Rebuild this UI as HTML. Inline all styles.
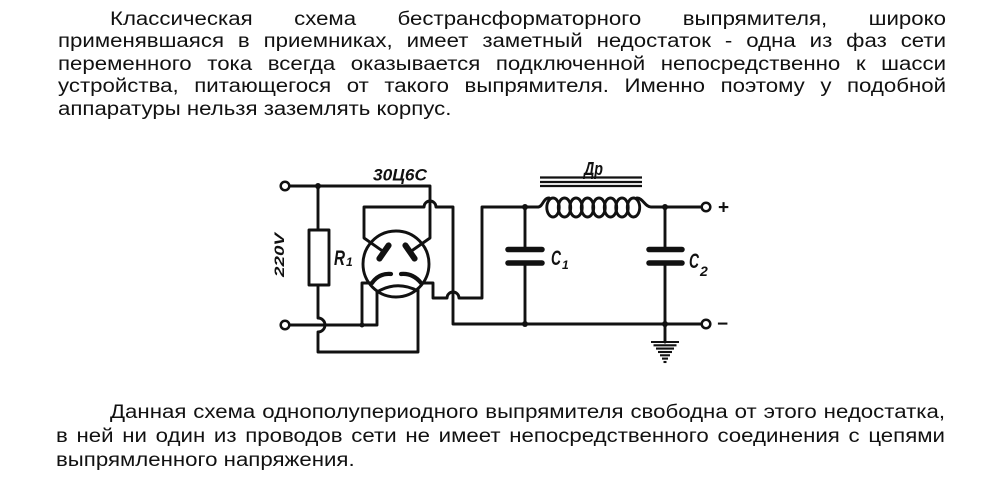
<!DOCTYPE html>
<html>
<head>
<meta charset="utf-8">
<style>
html,body{margin:0;padding:0;background:#fff;}
body{width:1000px;height:478px;position:relative;overflow:hidden;}
.ln{position:absolute;font-family:"Liberation Sans",Arial,sans-serif;font-size:19px;line-height:22.5px;height:22.5px;color:#111;transform:scaleX(1.17);transform-origin:0 0;}
.j{text-align:justify;text-align-last:justify;}
.l{text-align:left;}
svg{position:absolute;left:0;top:0;}
.lbl{font-family:"Liberation Sans",Arial,sans-serif;font-weight:bold;font-style:italic;fill:#111;}
</style>
</head>
<body>
<div class="ln j" style="left:110px;top:8.7px;width:714.5px;">Классическая схема бестрансформаторного выпрямителя, широко</div>
<div class="ln j" style="left:58px;top:31.2px;width:759px;">применявшаяся в приемниках, имеет заметный недостаток - одна из фаз сети</div>
<div class="ln j" style="left:58px;top:53.7px;width:759px;">переменного тока всегда оказывается подключенной непосредственно к шасси</div>
<div class="ln j" style="left:58px;top:76.2px;width:759px;">устройства, питающегося от такого выпрямителя. Именно поэтому у подобной</div>
<div class="ln l" style="left:58px;top:98.7px;width:759px;">аппаратуры нельзя заземлять корпус.</div>

<div class="ln j" style="left:110px;top:401.7px;width:713.7px;">Данная схема однополупериодного выпрямителя свободна от этого недостатка,</div>
<div class="ln j" style="left:56px;top:425.7px;width:759.8px;">в ней ни один из проводов сети не имеет непосредственного соединения с цепями</div>
<div class="ln l" style="left:56px;top:449.7px;width:759.8px;">выпрямленного напряжения.</div>

<svg width="1000" height="478" viewBox="0 0 1000 478">
  <g fill="none" stroke="#111" stroke-width="2.9" stroke-linejoin="round" stroke-linecap="round">
    <path d="M289,186 H430 V238 L410,252"/>
    <path d="M318,186 V230"/>
    <rect x="309" y="230" width="20" height="55"/>
    <path d="M318,285 V318 A7,7 0 0 1 318,332 V352 H418 V289"/>
    <path d="M289,325 H377 V291"/>
    <path d="M362,325 V283 H372"/>
    <path d="M384,252 L364,238 V207 H424 A6,6 0 0 1 436,207 H453 V324 H702"/>
    <path d="M421,283 H433 V298 H447 A6,6 0 0 1 459,298 H482 V207 H538"/>
    <path d="M538,207 C543,207 543,198 549,198"/>
    <path d="M637,198 C643,198 645,207 651,207 H702"/>
    <ellipse cx="553" cy="207.5" rx="6.2" ry="9.5"/>
    <ellipse cx="564.5" cy="207.5" rx="6.2" ry="9.5"/>
    <ellipse cx="576" cy="207.5" rx="6.2" ry="9.5"/>
    <ellipse cx="587.5" cy="207.5" rx="6.2" ry="9.5"/>
    <ellipse cx="599" cy="207.5" rx="6.2" ry="9.5"/>
    <ellipse cx="610.5" cy="207.5" rx="6.2" ry="9.5"/>
    <ellipse cx="622" cy="207.5" rx="6.2" ry="9.5"/>
    <ellipse cx="633.5" cy="207.5" rx="6.2" ry="9.5"/>
    <path d="M525,207 V249 M525,263 V324"/>
    <path d="M665,207 V249 M665,263 V324 V342"/>
    <circle cx="396" cy="264" r="33"/>
    <path d="M377,292 Q397,280 418,291"/>
  </g>
  <g stroke="#111" stroke-width="2.2">
    <line x1="540" y1="177.5" x2="642" y2="177.5"/>
    <line x1="540" y1="182" x2="642" y2="182"/>
    <line x1="540" y1="186" x2="642" y2="186"/>
  </g>
  <g stroke="#111" stroke-width="5.5" stroke-linecap="round">
    <line x1="508" y1="249.5" x2="542" y2="249.5"/>
    <line x1="508" y1="263" x2="542" y2="263"/>
    <line x1="649" y1="249.5" x2="682" y2="249.5"/>
    <line x1="649" y1="263" x2="682" y2="263"/>
  </g>
  <g stroke="#111" stroke-width="6" stroke-linecap="round">
    <line x1="379.4" y1="258.6" x2="388.6" y2="245.4"/>
    <line x1="405.4" y1="245.4" x2="414.6" y2="258.6"/>
  </g>
  <g fill="none" stroke="#111" stroke-width="4.2" stroke-linecap="round">
    <path d="M372,283 Q379,273 391,274"/>
    <path d="M401,274 Q413,273 421,283"/>
  </g>
  <g stroke="#111" stroke-width="2.1">
    <line x1="651" y1="342" x2="679" y2="342"/>
    <line x1="653.5" y1="345.3" x2="676.5" y2="345.3"/>
    <line x1="656" y1="348.6" x2="674" y2="348.6"/>
    <line x1="658" y1="352" x2="672" y2="352"/>
    <line x1="660" y1="355.3" x2="670" y2="355.3"/>
    <line x1="662" y1="358.6" x2="668" y2="358.6"/>
    <line x1="663.5" y1="362" x2="666.5" y2="362"/>
  </g>
  <g fill="#111">
    <circle cx="318" cy="186" r="3"/>
    <circle cx="525" cy="207" r="3"/>
    <circle cx="665" cy="207" r="3"/>
    <circle cx="525" cy="324" r="3"/>
    <circle cx="665" cy="324" r="3"/>
    <circle cx="362" cy="325" r="2.5"/>
  </g>
  <g fill="#fff" stroke="#111" stroke-width="2.5">
    <circle cx="285" cy="186" r="4.3"/>
    <circle cx="285" cy="325" r="4.3"/>
    <circle cx="706" cy="207" r="4.3"/>
    <circle cx="706" cy="324" r="4.3"/>
  </g>
  <text class="lbl" x="373" y="180.5" font-size="17" textLength="54" lengthAdjust="spacingAndGlyphs">30Ц6С</text>
  <text class="lbl" font-size="14" textLength="44" lengthAdjust="spacingAndGlyphs" transform="translate(284,277) rotate(-90)" x="0" y="0">220V</text>
  <text class="lbl" x="334" y="265" font-size="21" textLength="11" lengthAdjust="spacingAndGlyphs">R</text>
  <text class="lbl" x="346" y="266" font-size="12">1</text>
  <text class="lbl" x="551" y="265" font-size="21" textLength="10" lengthAdjust="spacingAndGlyphs">C</text>
  <text class="lbl" x="562" y="269" font-size="12">1</text>
  <text class="lbl" x="689" y="268" font-size="21" textLength="10" lengthAdjust="spacingAndGlyphs">C</text>
  <text class="lbl" x="700" y="276" font-size="14">2</text>
  <text class="lbl" x="584" y="175" font-size="18" textLength="19" lengthAdjust="spacingAndGlyphs">Др</text>
  <text x="718" y="213.5" font-family="Liberation Sans, Arial, sans-serif" font-weight="bold" font-size="19" fill="#111">+</text>
  <text x="717" y="330" font-family="Liberation Sans, Arial, sans-serif" font-weight="bold" font-size="19" fill="#111">−</text>
</svg>
</body>
</html>
